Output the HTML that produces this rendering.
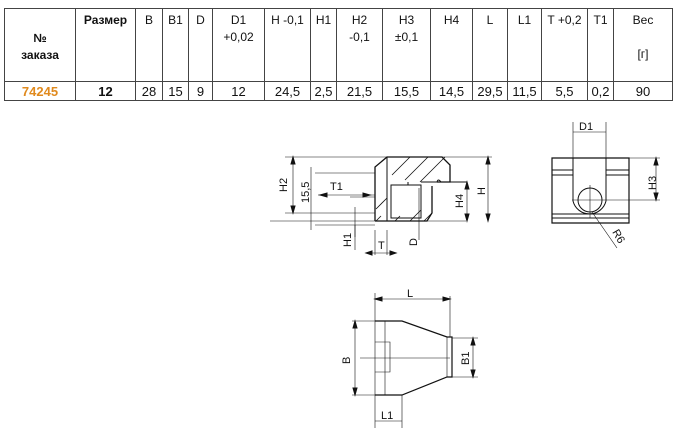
<!DOCTYPE html>
<html><head><meta charset="utf-8"><style>
body{margin:0;background:#fff;width:677px;height:435px;overflow:hidden;position:relative;font-family:"Liberation Sans",sans-serif}
table{position:absolute;left:4px;top:8px;border-collapse:collapse;font-size:12px;color:#111}
td{border:1px solid #444;padding:0;vertical-align:top;text-align:center;line-height:17px}
tr.h td{height:69px;padding-top:3px}
tr.d td{height:18px;vertical-align:middle;font-size:13px}
</style></head><body>
<table>
<colgroup><col style="width:71px"><col style="width:60px"><col style="width:27px"><col style="width:26px"><col style="width:24px"><col style="width:52px"><col style="width:46px"><col style="width:26px"><col style="width:46px"><col style="width:48px"><col style="width:42px"><col style="width:35px"><col style="width:34px"><col style="width:46px"><col style="width:26px"><col style="width:59px"></colgroup>
<tr class="h"><td style="vertical-align:middle;font-weight:bold">№<br>заказа</td><td style="font-weight:bold">Размер</td><td>B</td><td>B1</td><td>D</td><td>D1<br>+0,02</td><td>H -0,1</td><td>H1</td><td>H2<br>-0,1</td><td>H3<br>±0,1</td><td>H4</td><td>L</td><td>L1</td><td>T +0,2</td><td>T1</td><td>Вес<br><br>[г]</td></tr>
<tr class="d"><td style="color:#e08a1e;font-weight:bold">74245</td><td style="font-weight:bold">12</td><td>28</td><td>15</td><td>9</td><td>12</td><td>24,5</td><td>2,5</td><td>21,5</td><td>15,5</td><td>14,5</td><td>29,5</td><td>11,5</td><td>5,5</td><td>0,2</td><td>90</td></tr>
</table>
<svg width="677" height="435" style="position:absolute;left:0;top:0" font-family="Liberation Sans" font-size="11" fill="none" stroke="#111" stroke-width="1">
<!-- side view -->
<path d="M375,221 L375,167 L387,157 L442,157 L450,165 L450,182 L437,182 M432,186 L432,213 L427,221 L375,221" stroke-width="1.3"/>
<path d="M387,157 L387,221 M391,185 L421,185 L421,218 L391,218 Z M408,182 L408,185 M421,182 L437,182 Q438,178 441,182 L467,182"/>
<path d="M392,175 L410,157 M405,180 L428,157 M420,182 L445,157 M376,221 L381,216 M376,209 L387,198 M395,221 L400,216 M410,221 L421,210 M424,221 L432,213" stroke-width="0.8"/>
<path d="M285,157 L492,157 M285,213 L375,213 M315,173 L375,173 M315,225 L375,225 M350,197 L375,197 M270,221 L466,221 M355,237 L355,225 M387,230 L387,255 M375,230 L375,255" stroke-width="0.6"/>
<path d="M293,157 L293,213 M311,167 L311,230 M355,207 L355,250 M488,157 L488,221 M467,182 L467,221 M419,188 L419,240 M366,253 L396,253 M318,195 L375,195" stroke-width="0.6"/>
<path d="M320,195 L327,193 L327,197 Z M370,195 L363,193 L363,197 Z M366,253 L372,251 L372,255 Z M396,253 L390,251 L390,255 Z M293,157 L291,164 L295,164 Z M293,213 L291,206 L295,206 Z M488,157 L486,164 L490,164 Z M488,221 L486,214 L490,214 Z M467,182 L465,189 L469,189 Z M467,221 L465,214 L469,214 Z" fill="#111"/>
<g fill="#111" stroke="none" font-size="11">
<text transform="translate(287,192) rotate(-90)">H2</text>
<text transform="translate(309,203) rotate(-90)">15,5</text>
<text x="330" y="190">T1</text>
<text transform="translate(351,247) rotate(-90)">H1</text>
<text x="378" y="249">T</text>
<text transform="translate(417,246) rotate(-90)">D</text>
<text transform="translate(463,208) rotate(-90)">H4</text>
<text transform="translate(485,195) rotate(-90)">H</text>
<text x="579" y="130">D1</text>
<text transform="translate(656,190) rotate(-90)">H3</text>
<text transform="translate(612,232) rotate(60)">R6</text>
<text transform="translate(350,364) rotate(-90)">B</text>
<text x="407" y="297">L</text>
<text transform="translate(469,365) rotate(-90)">B1</text>
<text x="381" y="419">L1</text>
</g>
<!-- front view -->
<path d="M552,158 L629,158 L629,223 L552,223 Z" stroke-width="1.2"/>
<path d="M573,158 L573,201 A17,17 0 0 0 606,201 L606,158 M552,170 L573,170 M552,175 L573,175 M606,170 L629,170 M606,175 L629,175 M552,214 L629,214 M552,218 L629,218"/>
<circle cx="590" cy="200" r="12"/>
<path d="M573,122 L573,158 M606,122 L606,158 M573,132 L606,132 M629,158 L660,158 M572,200 L660,200 M656,158 L656,200 M590,185 L590,218 M592,212 L617,248" stroke-width="0.6"/>
<path d="M656,158 L654,165 L658,165 Z M656,200 L654,193 L658,193 Z" fill="#111"/>
<!-- top view -->
<path d="M375,321 L402,321 L447,337 L452,337 L452,377 L447,377 L402,395 L375,395" stroke-width="1.2"/>
<path d="M375,293 L375,428 M385,321 L385,395 M447,337 L447,377 M375,342 L390,342 L390,372 L375,372 M352,321 L375,321 M352,395 L375,395 M452,338 L478,338 M452,377 L478,377 M375,299 L450,299 M450,296 L450,337 M355,321 L355,395 M473,338 L473,377 M375,421 L402,421 M402,395 L402,428 M360,358 L450,358" stroke-width="0.6"/>
<path d="M375,299 L382,297 L382,301 Z M450,299 L443,297 L443,301 Z M355,321 L353,328 L357,328 Z M355,395 L353,388 L357,388 Z M473,338 L471,345 L475,345 Z M473,377 L471,370 L475,370 Z" fill="#111"/>
</svg>
</body></html>
